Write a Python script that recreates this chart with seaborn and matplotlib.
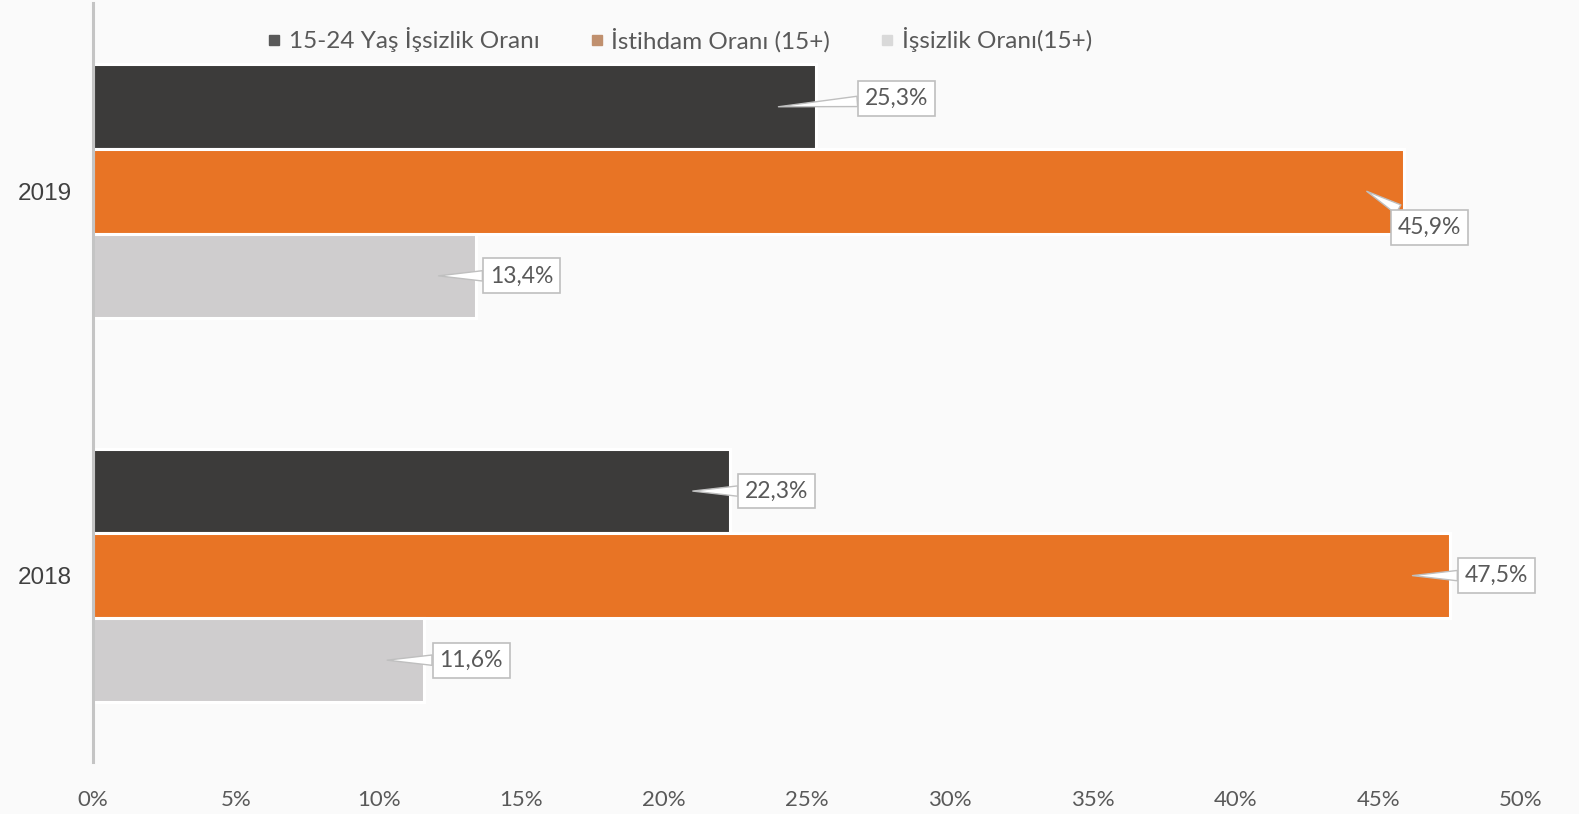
import pandas as pd
import matplotlib.pyplot as plt
import seaborn as sns
from matplotlib.lines import Line2D

# data
years = ["2019", "2018"]
series = ["15-24 Yaş İşsizlik Oranı", "İstihdam Oranı (15+)", "İşsizlik Oranı(15+)"]
youth_unemp = [25.3, 22.3]
employment = [45.9, 47.5]
unemp = [13.4, 11.6]
x_ticks = [0, 5, 10, 15, 20, 25, 30, 35, 40, 45, 50]

bar_colors = ["#3c3b3a", "#e87425", "#cfcdce"]
legend_colors = ["#595959", "#c0906e", "#d9d9d9"]
text_color = "#595959"
bg = "#fafafa"

df = pd.DataFrame({
    "year": years * 3,
    "series": [s for s in series for _ in years],
    "value": youth_unemp + employment + unemp,
})

# callout offsets in pixels (box centre relative to pointer tip, +y = down)
label_offsets = {
    (0, 0): (118, -8), (1, 0): (63, 36), (2, 0): (83, 0),
    (0, 1): (84, 0), (1, 1): (84, 0), (2, 1): (84, 0),
}

sns.set_theme(style="white")
plt.rcParams["font.family"] = ["Lato", "DejaVu Sans"]

fig = plt.figure(figsize=(15.79, 8.14), dpi=100, facecolor=bg)
ax = fig.add_axes([93 / 1579, 1 - 762 / 814, (1521 - 93) / 1579, 759 / 814])
ax.set_facecolor(bg)

sns.barplot(data=df, x="value", y="year", hue="series",
            order=years, hue_order=series, palette=bar_colors, orient="h",
            width=0.66, edgecolor="white", linewidth=2.2, saturation=1,
            legend=False, ax=ax)

ax.set_xlim(0, 50)
ax.set_ylim(1.485, -0.49)
ax.set_xticks(x_ticks)
ax.set_xticklabels([f"{t}%" for t in x_ticks], fontsize=16, color=text_color)
ax.tick_params(axis="x", length=0, pad=20)
ax.tick_params(axis="y", length=0, pad=15)
for lab in ax.get_yticklabels():
    lab.set_fontfamily("Liberation Sans")
    lab.set_fontsize(17.5)
    lab.set_color("#404040")
ax.set_xlabel("")
ax.set_ylabel("")
for side in ["top", "right", "bottom"]:
    ax.spines[side].set_visible(False)
ax.spines["left"].set_color("#c4c4c4")
ax.spines["left"].set_linewidth(2.2)
ax.spines["left"].set_zorder(5)

# callout labels
for si, cont in enumerate(ax.containers):
    for yi, bar in enumerate(cont):
        val = bar.get_width()
        yc = bar.get_y() + bar.get_height() / 2
        dx, dy = label_offsets[(si, yi)]
        ax.annotate(f"{val:.1f}%".replace(".", ","),
                    xy=(val - 1.3, yc), xytext=(dx, -dy), textcoords="offset pixels",
                    ha="center", va="center", fontsize=16.5, color=text_color,
                    bbox=dict(boxstyle="square,pad=0.3", fc="white", ec="#bfbfbf", lw=1.2),
                    arrowprops=dict(arrowstyle="wedge,tail_width=0.45", fc="white",
                                    ec="#bfbfbf", lw=1.0, shrinkA=0, shrinkB=0),
                    zorder=6)

handles = [Line2D([0], [0], marker="s", linestyle="none", markersize=7.5,
                  markerfacecolor=c, markeredgecolor=c) for c in legend_colors]
fig.legend(handles, series, loc="center left", bbox_to_anchor=(244 / 1579, 1 - 40 / 814),
           ncol=3, frameon=False, fontsize=17.5, handletextpad=0.25, columnspacing=2.0,
           labelcolor=text_color, handlelength=0.7)

fig.savefig("out.png", dpi=100, facecolor=bg)
